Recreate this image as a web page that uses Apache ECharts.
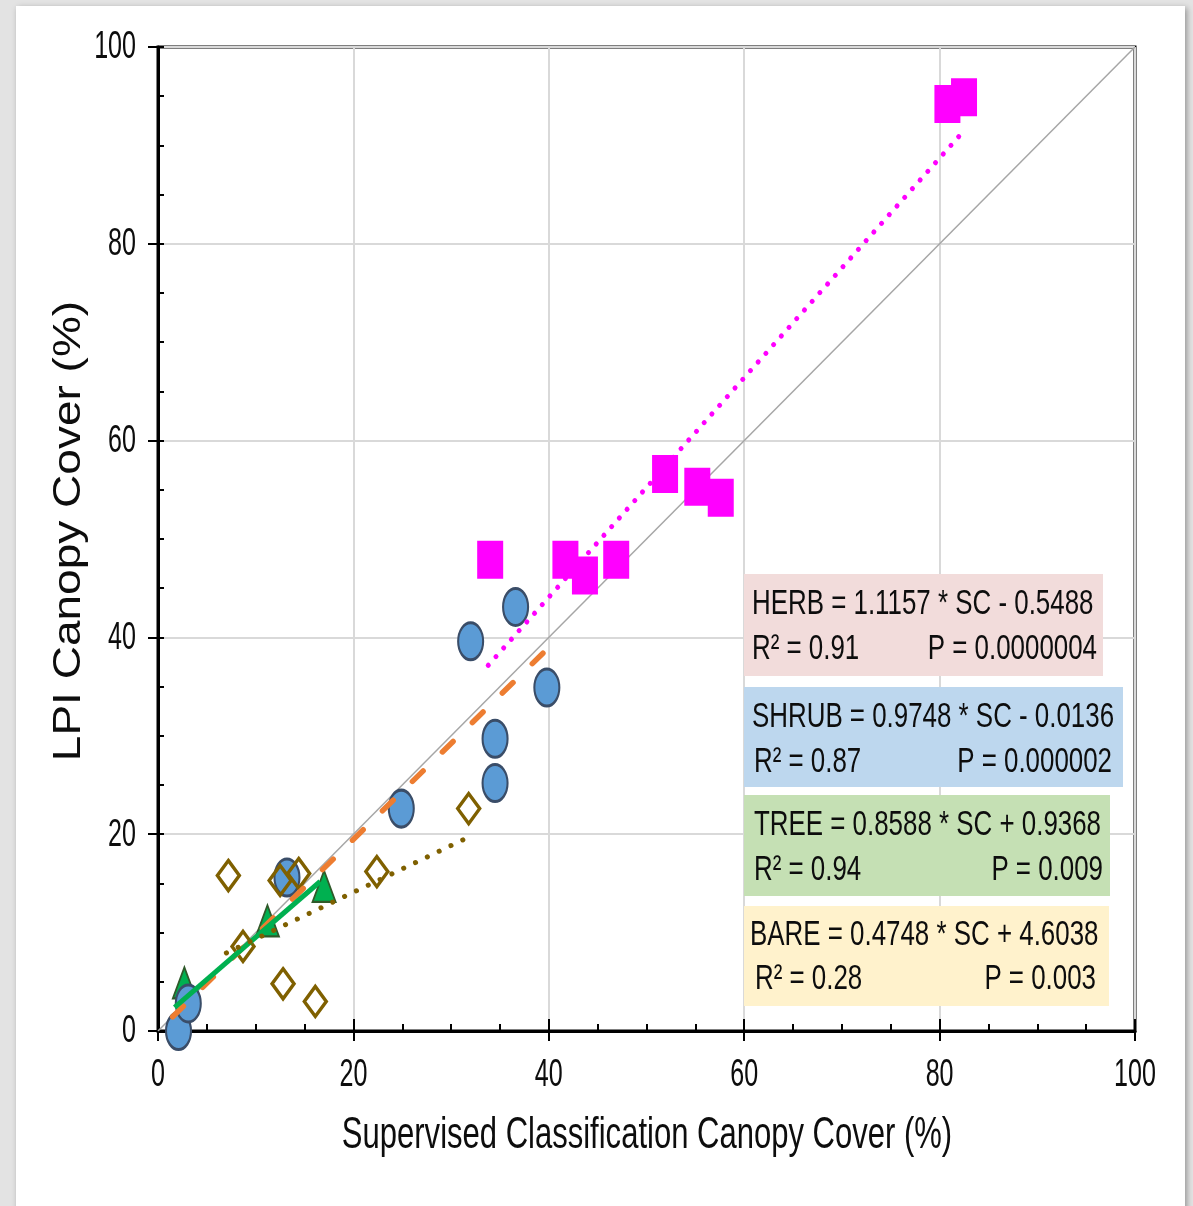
<!DOCTYPE html>
<html>
<head>
<meta charset="utf-8">
<script src="https://cdn.jsdelivr.net/npm/echarts@6/dist/echarts.min.js"></script>
<style>
  html, body { margin: 0; padding: 0; background: #e3e3e3; }
  #card { position: absolute; left: 16px; top: 6px; width: 1169px; height: 1210px; background: #fff; box-shadow: 2px 2px 6px rgba(0,0,0,0.35); }
  #chart { position: absolute; left: 0; top: 0; width: 1193px; height: 1206px; }
</style>
</head>
<body>
<div id="card"></div>
<div id="chart"></div>
<script>
// ---- data ----
var herbX  = [34.0, 41.7, 43.7, 46.9, 51.9, 55.2, 57.6, 80.8, 82.5];
var herbY  = [47.9, 47.9, 46.3, 47.9, 56.6, 55.3, 54.2, 94.2, 94.9];
var shrubX = [2.1, 3.1, 13.2, 24.9, 32.0, 34.5, 34.5, 36.6, 39.8];
var shrubY = [0.0, 2.8, 15.6, 22.6, 39.6, 29.7, 25.2, 43.1, 34.9];
var treeX  = [2.7, 11.2, 17.0];
var treeY  = [4.9, 11.2, 14.7];
var bareX  = [7.2, 8.7, 12.5, 14.4, 12.8, 16.1, 22.4, 31.8];
var bareY  = [15.8, 8.6, 15.3, 16.0, 4.8, 3.0, 16.2, 22.6];

// trend line equations (slope, intercept) and x extents
var herbFit  = [1.1157, -0.5488]; var herbRange  = [33.8, 82.2];
var shrubFit = [0.9748, -0.0136]; var shrubRange = [1.5, 39.4];
var treeFit  = [0.8588, 0.9368];  var treeRange  = [1.7, 16.6];
var bareFit  = [0.4748, 4.6038];  var bareRange  = [7.0, 31.6];

var oneToOne = [[0, 0], [100, 100]];
var xTickLabels = [0, 20, 40, 60, 80, 100];
var yTickLabels = [0, 20, 40, 60, 80, 100];

var boxTexts = [
  ['HERB = 1.1157 * SC - 0.5488', 'R\u00B2 = 0.91', 'P = 0.0000004'],
  ['SHRUB = 0.9748 * SC - 0.0136', 'R\u00B2 = 0.87', 'P = 0.000002'],
  ['TREE = 0.8588 * SC + 0.9368', 'R\u00B2 = 0.94', 'P = 0.009'],
  ['BARE = 0.4748 * SC + 4.6038', 'R\u00B2 = 0.28', 'P = 0.003']
];
var xTitle = 'Supervised Classification Canopy Cover (%)';
var yTitle = 'LPI Canopy Cover (%)';

// ---- build ----
function pairs(xs, ys) { return xs.map(function (x, i) { return [x, ys[i]]; }); }
function fitLine(fit, range) { return range.map(function (x) { return [x, fit[0] * x + fit[1]]; }); }

var txtFont = "'Liberation Sans', Arial, sans-serif";

function baseAxis(pos) {
  return {
    type: 'value', min: 0, max: 100, interval: 20, position: pos,
    axisLine: { show: true, onZero: false, lineStyle: { color: '#000', width: 3 } },
    axisTick: { show: true, inside: false, length: 10, lineStyle: { color: '#000', width: 2 } },
    axisLabel: { show: false },
    splitLine: { show: true, lineStyle: { color: '#d9d9d9', width: 2 } }
  };
}
function tickAxis(pos, interval, len) {
  return {
    type: 'value', min: 0, max: 100, interval: interval, position: pos, offset: 0,
    axisLine: { show: false, onZero: false },
    axisTick: { show: true, inside: true, length: len, lineStyle: { color: '#000', width: 2 } },
    axisLabel: { show: false },
    splitLine: { show: false }
  };
}

var boxes = [
  { x: 744, y: 574, w: 359, h: 102, fill: '#F2DCDB', l1: [752, 604], l2: [752, 649], r2: [1097, 649] },
  { x: 744, y: 687, w: 379, h: 100, fill: '#BDD7EE', l1: [752, 717], l2: [754, 762], r2: [1112, 762] },
  { x: 744, y: 795, w: 366, h: 101, fill: '#C5E0B4', l1: [754, 825], l2: [754, 870], r2: [1103, 870] },
  { x: 744, y: 906, w: 365, h: 100, fill: '#FFF2CC', l1: [750, 935], l2: [755, 979], r2: [1096, 979] }
];
function txt(s, x, y, align, sx, size, rot) {
  var el = {
    type: 'text', x: x, y: y, scaleX: sx, z: 120,
    style: { text: s, font: size + 'px ' + txtFont, fill: '#0d0d0d',
             align: align, textAlign: align, verticalAlign: 'middle', textVerticalAlign: 'middle' }
  };
  if (rot) el.rotation = rot;
  return el;
}
var graphics = [];
boxes.forEach(function (b, i) {
  graphics.push({ type: 'rect', z: 110, shape: { x: b.x, y: b.y, width: b.w, height: b.h }, style: { fill: b.fill } });
  graphics.push(txt(boxTexts[i][0], b.l1[0], b.l1[1], 'left', 0.74, 35));
  graphics.push(txt(boxTexts[i][1], b.l2[0], b.l2[1], 'left', 0.74, 35));
  graphics.push(txt(boxTexts[i][2], b.r2[0], b.r2[1], 'right', 0.74, 35));
});
graphics.push(txt(xTitle, 647, 1136, 'center', 0.705, 44));
graphics.push(txt(yTitle, 69, 531, 'center', 1.18, 39, Math.PI / 2));

var chart = echarts.init(document.getElementById('chart'), null, { renderer: 'canvas' });
chart.setOption({
  backgroundColor: 'transparent',
  animation: false,
  grid: { left: 158, top: 47, right: 58, bottom: 175, show: true, borderColor: '#000', borderWidth: 3, backgroundColor: 'transparent' },
  xAxis: [ baseAxis('bottom'), tickAxis('bottom', 5, 7), tickAxis('bottom', 20, 12) ],
  yAxis: [ baseAxis('left'), tickAxis('left', 5, 6) ],
  series: [
    { type: 'line', data: oneToOne, showSymbol: false, silent: true, z: 1,
      lineStyle: { color: '#a6a6a6', width: 1.5 } },
    { name: 'TREE', type: 'scatter', data: pairs(treeX, treeY), symbol: 'triangle', symbolSize: [23, 31], z: 2,
      itemStyle: { color: '#00B050', borderColor: '#2f5a2a', borderWidth: 2, opacity: 1 } },
    { name: 'SHRUB', type: 'scatter', data: pairs(shrubX, shrubY), symbol: 'circle', symbolSize: [25, 37], z: 3,
      itemStyle: { color: '#5B9BD5', borderColor: '#3a4d68', borderWidth: 2.5, opacity: 1 } },
    { name: 'BARE', type: 'scatter', data: pairs(bareX, bareY), symbol: 'diamond', symbolSize: [22, 30], z: 4,
      itemStyle: { color: 'rgba(255,255,255,0)', borderColor: '#7F6000', borderWidth: 3.5, opacity: 1 } },
    { name: 'HERB', type: 'scatter', data: pairs(herbX, herbY), symbol: 'rect', symbolSize: [26, 38], z: 4,
      itemStyle: { color: '#FF00FF', opacity: 1 } },
    { type: 'line', data: fitLine(herbFit, herbRange), showSymbol: false, z: 5,
      lineStyle: { color: '#FF00FF', width: 5, type: [0.1, 11.5], cap: 'round' } },
    { type: 'line', data: fitLine(shrubFit, shrubRange), showSymbol: false, z: 5,
      lineStyle: { color: '#ED7D31', width: 5.5, type: [15, 27], cap: 'round' } },
    { type: 'line', data: fitLine(treeFit, treeRange), showSymbol: false, z: 5,
      lineStyle: { color: '#00B050', width: 5 } },
    { type: 'line', data: fitLine(bareFit, bareRange), showSymbol: false, z: 5,
      lineStyle: { color: '#7F6000', width: 5, type: [0.1, 13], cap: 'round' } }
  ]
});

// tick labels positioned through the chart's own axis scales
xTickLabels.forEach(function (v) {
  var p = chart.convertToPixel({ xAxisIndex: 0 }, v);
  var base = chart.convertToPixel({ yAxisIndex: 0 }, 0);
  graphics.push(txt(String(v), p, base + 45, 'center', 0.66, 38));
});
yTickLabels.forEach(function (v) {
  var p = chart.convertToPixel({ yAxisIndex: 0 }, v);
  var left = chart.convertToPixel({ xAxisIndex: 0 }, 0);
  graphics.push(txt(String(v), left - 22, p + 1, 'right', 0.66, 38));
});
chart.setOption({ graphic: graphics });
</script>
</body>
</html>
